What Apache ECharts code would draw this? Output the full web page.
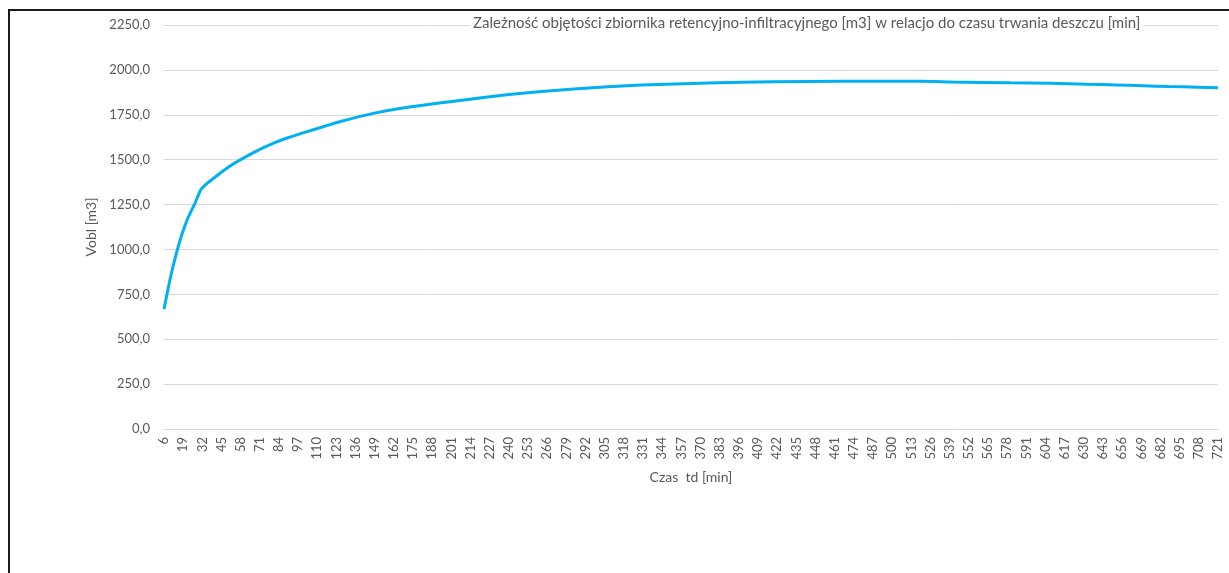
<!DOCTYPE html>
<html>
<head>
<meta charset="utf-8">
<script src="https://cdn.jsdelivr.net/npm/echarts@6/dist/echarts.min.js"></script>
<style>
html,body{margin:0;padding:0;background:#fff;}
#chart{width:1229px;height:573px;}
</style>
</head>
<body>
<div id="chart"></div>
<script>
// Czas td [min]
var times = [6, 10, 14, 18, 22, 27, 31, 36, 41, 50, 58, 70, 80, 90, 103, 115, 125, 148, 170, 200, 240, 284, 330, 375, 420, 465, 520, 540, 580, 607, 632, 652, 670, 688, 707, 721];
// Vobl [m3]
var volumes = [667, 830, 965, 1080, 1170, 1257, 1333, 1373, 1405, 1460, 1500, 1553, 1591, 1622, 1656, 1686, 1711, 1758, 1791, 1823, 1863, 1894, 1916, 1927, 1934, 1937, 1937, 1933, 1928, 1925, 1920, 1916, 1912, 1907, 1904, 1901];
var xTickStart = 6, xTickEnd = 721, xTickStep = 13;
var yTickMax = 2250, yTickStep = 250;

var titleText = 'Zależność objętości zbiornika retencyjno-infiltracyjnego [m3] w relacjo do czasu trwania deszczu [min]';
var xName = 'Czas  td [min]';
var yName = 'Vobl [m3]';

var seriesData = times.map(function (t, i) { return [t, volumes[i]]; });
var font = 'Lato, "Open Sans", sans-serif';
var gray = '#595959';

var chart = echarts.init(document.getElementById('chart'), null, {renderer: 'canvas'});
chart.setOption({
  animation: false,
  backgroundColor: '#fff',
  title: {
    text: titleText,
    left: 470,
    top: 15,
    padding: [1, 3],
    backgroundColor: '#fff',
    textStyle: {fontFamily: font, fontSize: 15, fontWeight: 'normal', color: gray}
  },
  grid: {left: 164, right: 11, top: 25, bottom: 144, containLabel: false},
  xAxis: {
    type: 'value',
    min: xTickStart,
    max: xTickEnd,
    interval: xTickStep,
    name: xName,
    nameLocation: 'middle',
    nameGap: 41,
    nameTextStyle: {fontFamily: font, fontSize: 14, color: gray},
    axisLine: {show: true, lineStyle: {color: '#d9d9d9', width: 1}},
    axisTick: {show: false},
    splitLine: {show: false},
    axisLabel: {
      rotate: 90,
      margin: 8,
      fontFamily: font,
      fontSize: 13,
      color: gray,
      showMinLabel: true,
      showMaxLabel: true
    }
  },
  yAxis: {
    type: 'value',
    min: 0,
    max: yTickMax,
    interval: yTickStep,
    name: yName,
    nameLocation: 'middle',
    nameGap: 61,
    nameTextStyle: {fontFamily: font, fontSize: 14, color: gray},
    axisLine: {show: false},
    axisTick: {show: false},
    splitLine: {show: true, lineStyle: {color: '#d9d9d9', width: 1}},
    axisLabel: {
      margin: 14,
      fontFamily: font,
      fontSize: 13,
      color: gray,
      formatter: function (v) { return v.toFixed(1).replace('.', ','); }
    }
  },
  series: [{
    type: 'line',
    data: seriesData,
    showSymbol: false,
    symbol: 'none',
    smooth: 0.15,
    lineStyle: {color: '#00B0F0', width: 3},
    itemStyle: {color: '#00B0F0'}
  }],
  graphic: [{
    type: 'rect',
    silent: true,
    shape: {x: 9, y: 10, width: 1260, height: 620},
    style: {fill: 'none', stroke: '#1a1a1a', lineWidth: 2}
  }]
});
</script>
</body>
</html>
